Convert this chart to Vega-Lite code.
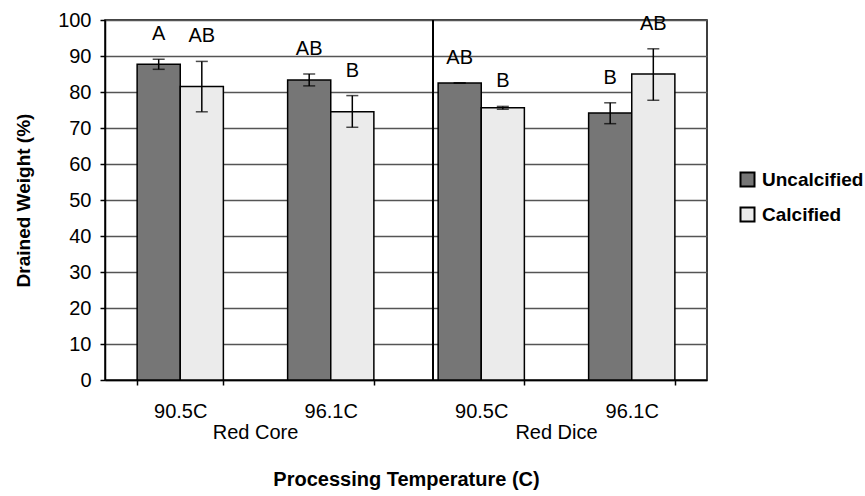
{
  "$schema": "https://vega.github.io/schema/vega-lite/v6.json",
  "width": 602,
  "height": 360,
  "autosize": {"type": "none"},
  "padding": {"left": 105, "top": 20, "right": 158, "bottom": 116},
  "background": "white",
  "config": {
    "view": {"stroke": "black", "strokeWidth": 1.5},
    "font": "Liberation Sans",
    "axis": {
      "labelFont": "Liberation Sans",
      "titleFont": "Liberation Sans",
      "labelColor": "black",
      "titleColor": "black",
      "domainColor": "black",
      "tickColor": "black",
      "domainWidth": 1.5,
      "tickWidth": 1.5
    },
    "axisY": {
      "values": [0, 10, 20, 30, 40, 50, 60, 70, 80, 90, 100],
      "labelOverlap": false,
      "labelFontSize": 20,
      "labelPadding": 9,
      "tickSize": 5,
      "grid": true,
      "gridColor": "#555555",
      "gridWidth": 1.3,
      "titleFontSize": 19,
      "titleFontWeight": "bold",
      "titlePadding": 24
    }
  },
  "data": {
    "values": [
      {"group": "Red Core", "key": "Red Core|90.5C", "treatment": "Uncalcified", "value": 87.7, "lo": 86.3, "hi": 89.1, "letter": "A"},
      {"group": "Red Core", "key": "Red Core|90.5C", "treatment": "Calcified", "value": 81.5, "lo": 74.5, "hi": 88.5, "letter": "AB"},
      {"group": "Red Core", "key": "Red Core|96.1C", "treatment": "Uncalcified", "value": 83.3, "lo": 81.7, "hi": 85.0, "letter": "AB"},
      {"group": "Red Core", "key": "Red Core|96.1C", "treatment": "Calcified", "value": 74.5, "lo": 70.2, "hi": 79.0, "letter": "B"},
      {"group": "Red Dice", "key": "Red Dice|90.5C", "treatment": "Uncalcified", "value": 82.5, "lo": 82.5, "hi": 82.5, "letter": "AB"},
      {"group": "Red Dice", "key": "Red Dice|90.5C", "treatment": "Calcified", "value": 75.6, "lo": 75.2, "hi": 76.0, "letter": "B"},
      {"group": "Red Dice", "key": "Red Dice|96.1C", "treatment": "Uncalcified", "value": 74.2, "lo": 71.2, "hi": 77.0, "letter": "B"},
      {"group": "Red Dice", "key": "Red Dice|96.1C", "treatment": "Calcified", "value": 85.0, "lo": 77.7, "hi": 92.0, "letter": "AB"}
    ]
  },
  "layer": [
    {
      "encoding": {
        "x": {
          "field": "key",
          "type": "nominal",
          "sort": null,
          "scale": {"paddingInner": 0.427, "paddingOuter": 0.2135},
          "axis": {
            "labelExpr": "split(datum.label, '|')[1]",
            "labelAngle": 0,
            "labelFontSize": 20,
            "labelPadding": 16,
            "tickBand": "extent",
            "tickSize": 5,
            "title": "Processing Temperature (C)",
            "titleFontSize": 20,
            "titleFontWeight": "bold",
            "titlePadding": 48
          }
        },
        "xOffset": {
          "field": "treatment",
          "type": "nominal",
          "sort": ["Uncalcified", "Calcified"],
          "scale": {"domain": ["Uncalcified", "Calcified"], "paddingInner": 0, "paddingOuter": 0}
        }
      },
      "layer": [
        {
          "mark": {"type": "bar", "stroke": "black", "strokeWidth": 1.5},
          "encoding": {
            "y": {
              "field": "value",
              "type": "quantitative",
              "scale": {"domain": [0, 100]},
              "title": "Drained Weight (%)"
            },
            "fill": {
              "field": "treatment",
              "type": "nominal",
              "sort": ["Uncalcified", "Calcified"],
              "scale": {"domain": ["Uncalcified", "Calcified"], "range": ["#767676", "#ebebeb"]},
              "legend": {
                "orient": "none",
                "legendX": 633,
                "legendY": 150,
                "title": null,
                "symbolType": "square",
                "symbolSize": 196,
                "symbolStrokeColor": "black",
                "symbolStrokeWidth": 2,
                "labelFontSize": 19,
                "labelFontWeight": "bold",
                "labelColor": "black",
                "labelOffset": 5,
                "rowPadding": 12,
                "padding": 0
              }
            }
          }
        },
        {
          "mark": {"type": "rule", "color": "black", "strokeWidth": 1.5},
          "encoding": {
            "y": {"field": "lo", "type": "quantitative", "title": "Drained Weight (%)"},
            "y2": {"field": "hi"}
          }
        },
        {
          "mark": {"type": "tick", "color": "black", "size": 12, "thickness": 1.5},
          "encoding": {
            "y": {"field": "lo", "type": "quantitative", "title": "Drained Weight (%)"}
          }
        },
        {
          "mark": {"type": "tick", "color": "black", "size": 12, "thickness": 1.5},
          "encoding": {
            "y": {"field": "hi", "type": "quantitative", "title": "Drained Weight (%)"}
          }
        },
        {
          "mark": {"type": "text", "fontSize": 20, "color": "black", "dy": -19, "baseline": "alphabetic"},
          "encoding": {
            "y": {"field": "hi", "type": "quantitative", "title": "Drained Weight (%)"},
            "text": {"field": "letter"}
          }
        },
        {
          "mark": {"type": "rule", "color": "black", "strokeWidth": 1.5, "xOffset": -5},
          "encoding": {
            "x": {"datum": "Red Dice|90.5C", "bandPosition": 0},
            "xOffset": null
          }
        }
      ]
    },
    {
      "mark": {"type": "rule", "opacity": 0},
      "encoding": {
        "x": {
          "field": "group",
          "type": "nominal",
          "sort": null,
          "scale": {"paddingInner": 0, "paddingOuter": 0},
          "axis": {
            "orient": "bottom",
            "domain": false,
            "ticks": false,
            "grid": false,
            "labelAngle": 0,
            "labelFontSize": 20,
            "labelPadding": 42,
            "title": null
          }
        }
      }
    }
  ],
  "resolve": {"scale": {"x": "independent"}}
}
